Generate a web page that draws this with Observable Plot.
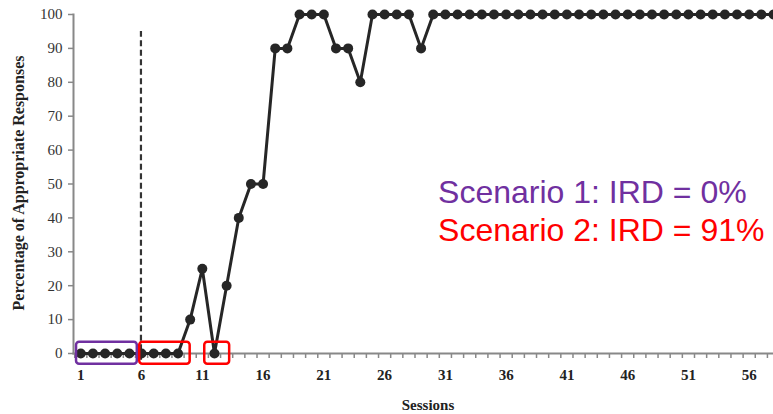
<!DOCTYPE html>
<html>
<head>
<meta charset="utf-8">
<script src="https://cdn.jsdelivr.net/npm/d3@7"></script>
<script src="https://cdn.jsdelivr.net/npm/@observablehq/plot@0.6"></script>
<style>
  html, body { margin: 0; padding: 0; background: #fff; }
</style>
</head>
<body>
<div id="chart"></div>
<script>
// ---- data ----
const sessions = d3.range(1, 59);
const percentages = [
  0, 0, 0, 0, 0, 0, 0, 0, 0, 10,
  25, 0, 20, 40, 50, 50, 90, 90, 100, 100,
  100, 90, 90, 80, 100, 100, 100, 100, 90, 100,
  100, 100, 100, 100, 100, 100, 100, 100, 100, 100,
  100, 100, 100, 100, 100, 100, 100, 100, 100, 100,
  100, 100, 100, 100, 100, 100, 100, 100
];
const xTickLabels = [1, 6, 11, 16, 21, 26, 31, 36, 41, 46, 51, 56];
const yTickLabels = [0, 10, 20, 30, 40, 50, 60, 70, 80, 90, 100];
const phaseChangeSession = [5.95];
const phaseLineTop = 95;
const phaseLineBottom = -2;
// highlighted boxes (session ranges)
const boxNames = ["Scenario 1", "Scenario 2", "Scenario 2"];
const boxStart = [0.65, 5.85, 11.2];
const boxEnd = [5.65, 10.0, 13.25];
const boxLow = -3.2, boxHigh = 3.3;
const scenarioLabels = ["Scenario 1: IRD = 0%", "Scenario 2: IRD = 91%"];
const scenarioLabelSession = 30.4;
const scenarioLabelValue = [44.3, 33.3];
const xTitle = "Sessions";
const yTitle = "Percentage of Appropriate Responses";

// ---- build ----
const purple = "#7030A0", red = "#FF0000";
const colorOf = {"Scenario 1": purple, "Scenario 2": red};
const series = sessions.map((s, i) => ({session: s, pct: percentages[i]}));
const boxes = boxNames.map((n, i) => ({name: n, x1: boxStart[i], x2: boxEnd[i]}));
const labels = scenarioLabels.map((t, i) => ({text: t, y: scenarioLabelValue[i], color: i === 0 ? purple : red}));
const halfTicks = d3.range(0.5, 58, 1);
const serif = "'Liberation Serif', 'Times New Roman', serif";

const plot = Plot.plot({
  width: 773,
  height: 414,
  marginLeft: 73,
  marginRight: 0,
  marginTop: 14,
  marginBottom: 61,
  style: {background: "#fff", overflow: "visible"},
  x: {domain: [0.4, 58], axis: null},
  y: {domain: [0, 100], axis: null},
  marks: [
    Plot.axisY({ticks: yTickLabels, tickSize: 5, tickPadding: 6, stroke: "#888", strokeWidth: 1.5,
      fontSize: 15, fontFamily: serif, color: "#333", label: null}),
    Plot.axisX({ticks: halfTicks, tickSize: 5, text: null, stroke: "#888", strokeWidth: 1.5, label: null}),
    Plot.axisX({ticks: xTickLabels, tickSize: 0, tickPadding: 16, fontSize: 15, fontWeight: "bold",
      fontFamily: serif, color: "#222", label: null, tickFormat: d => d}),
    Plot.frame({anchor: "left", stroke: "#888", strokeWidth: 2}),
    Plot.frame({anchor: "bottom", stroke: "#888", strokeWidth: 2}),
    Plot.ruleX(phaseChangeSession, {y1: phaseLineBottom, y2: phaseLineTop, stroke: "#333",
      strokeWidth: 2.2, strokeDasharray: "6,3.5"}),
    Plot.line(series, {x: "session", y: "pct", stroke: "#262626", strokeWidth: 3}),
    Plot.dot(series, {x: "session", y: "pct", r: 5, fill: "#262626", stroke: "none"}),
    Plot.rect(boxes, {x1: "x1", x2: "x2", y1: boxLow, y2: boxHigh, fill: "none",
      stroke: d => colorOf[d.name], strokeWidth: 2.5, rx: 3}),
    Plot.text(labels, {x: scenarioLabelSession, y: "y", text: "text", fill: d => d.color,
      textAnchor: "start", lineAnchor: "bottom", fontSize: 32,
      fontFamily: "'Liberation Sans', Arial, sans-serif"}),
    Plot.text([yTitle], {frameAnchor: "left", rotate: -90, dx: -55, dy: -1,
      textAnchor: "middle", lineAnchor: "middle",
      fontSize: 16, fontWeight: "bold", fontFamily: serif, fill: "#222"}),
    Plot.text([xTitle], {frameAnchor: "bottom", dx: 4.5, dy: 52,
      textAnchor: "middle", lineAnchor: "middle",
      fontSize: 15, fontWeight: "bold", fontFamily: serif, fill: "#222"})
  ]
});

document.getElementById("chart").appendChild(plot);
</script>
</body>
</html>
